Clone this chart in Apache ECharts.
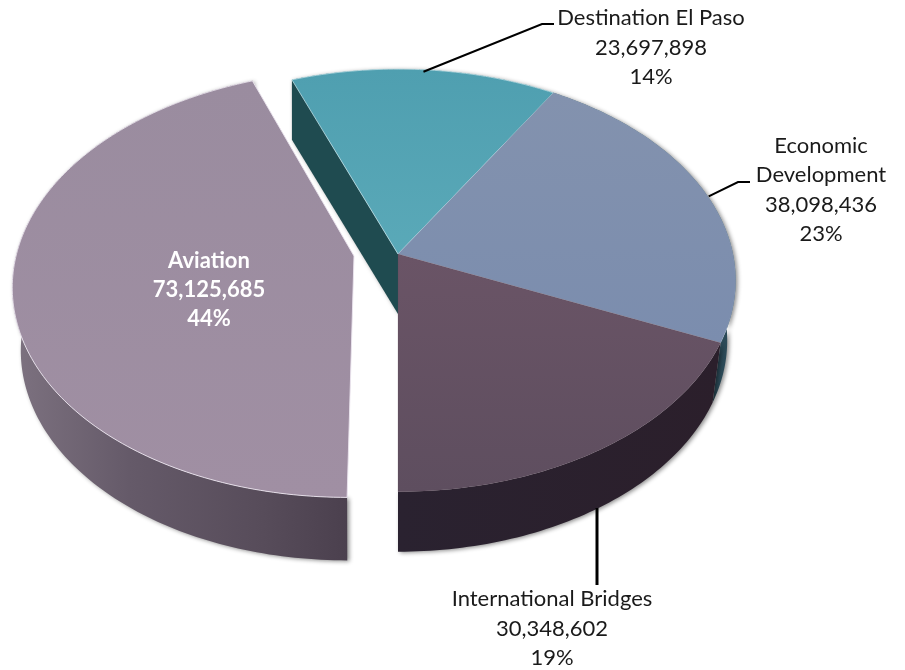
<!DOCTYPE html>
<html>
<head>
<meta charset="utf-8">
<style>html,body{margin:0;padding:0;background:#fff}#c{width:905px;height:670px}</style>
<script src="https://cdn.jsdelivr.net/npm/echarts@6/dist/echarts.min.js"></script>
</head>
<body>
<div id="c"></div>
<script>
// ---- data ----
var categories = ['Aviation', 'Destination El Paso', 'Economic Development', 'International Bridges'];
var amounts = [73125685, 23697898, 38098436, 30348602];
var percentLabels = ['44%', '14%', '23%', '19%'];
var nameLabels = ['Aviation', 'Destination El Paso', 'Economic\nDevelopment', 'International Bridges'];

// ---- look ----
var topColors = [['#9a8c9f', '#a08fa3'], ['#4f9fb0', '#5aa9b8'], ['#8392ae', '#7b8dae'], ['#6a5466', '#5e4e5f']];
var sideColors = [
  [[0, '#7d7280'], [0.35, '#655a69'], [0.75, '#574c5a'], [1, '#4b404e']],
  [[0, '#1f4d52'], [1, '#1f4d52']],
  [[0, '#234650'], [1, '#2c4a58']],
  [[0, '#2a2230'], [1, '#2b1f2b']]
];
var edgeColors = ['rgba(235,228,238,0.9)', 'rgba(190,225,232,0.8)', 'rgba(170,190,210,0.25)', 'rgba(90,70,85,0.2)'];
var wallColor = '#1f4b50';

// ---- layout ----
var startBearing = 180;                     // first slice begins at the front of the pie, running clockwise
var tilt = { rx: 335, ry: 208, p: 0.125, depth: 60, floorScale: 0.975 };
var pieces = [
  { cx: 354, cy: 256, rx: 338, ry: 210, p: 0.13, shear: -6, depth: 63 },
  { cx: 398, cy: 254 }, { cx: 398, cy: 254 }, { cx: 398, cy: 254 }
];
var labelFont = 22;
var labelSpots = [
  { x: 209, y: 290, color: '#ffffff', weight: 'bold' },
  { x: 651, y: 47.5, color: '#1a1a1a', weight: 'normal' },
  { x: 821, y: 190, color: '#1a1a1a', weight: 'normal' },
  { x: 552, y: 628.5, color: '#1a1a1a', weight: 'normal' }
];
var leaders = [
  null,
  { nudge: [-1, 2], via: [[542, 24], [554, 24]] },
  { nudge: [3, 3], via: [[738, 182], [750, 182]] },
  { nudge: [0, 0], rim: true, via: [[597, 585]], plumb: 597, from: 508 }
];

var total = amounts.reduce(function (a, b) { return a + b; }, 0);
var sweeps = [];
(function () {
  var b = startBearing;
  amounts.forEach(function (v) {
    var e = b + v / total * 360;
    sweeps.push([b, e]);
    b = e;
  });
})();

function project(i, bearing) {
  var P = pieces[i];
  var rx = P.rx || tilt.rx, ry = P.ry || tilt.ry, sh = P.shear || 0, p = P.p || tilt.p;
  var a = bearing * Math.PI / 180;
  var u = Math.sin(a), v = -Math.cos(a);
  var w = 1 - p * v;
  return [P.cx + (rx * u + sh * v) / w, P.cy + ry * v / w];
}
function arc(i) {
  var pts = [], s = sweeps[i], n = Math.ceil(s[1] - s[0]);
  for (var k = 0; k <= n; k++) pts.push(project(i, s[0] + (s[1] - s[0]) * k / n));
  return pts;
}
function depthOf(i) { return pieces[i].depth || tilt.depth; }
function grad(stops, vertical) {
  return { type: 'linear', x: 0, y: 0, x2: vertical ? 0 : 1, y2: vertical ? 1 : 0,
    colorStops: stops.map(function (s) { return { offset: s[0], color: s[1] }; }) };
}
function twoStops(c) { return [[0, c[0]], [1, c[1]]]; }
var shadow = { shadowColor: 'rgba(0,0,0,0.45)', shadowBlur: 4, shadowOffsetX: 2, shadowOffsetY: 1 };

function renderSide(params) {
  var i = params.dataIndex, top = arc(i), d = depthOf(i), cx = pieces[i].cx;
  var low = top.map(function (p) {
    return [cx + (p[0] - cx) * tilt.floorScale, p[1] + d];
  }).reverse();
  return { type: 'polygon', shape: { points: top.concat(low) },
    style: Object.assign({ fill: grad(sideColors[i], false) }, shadow) };
}
function renderWall(params) {
  var i = params.dataIndex;
  if (i !== 1) return { type: 'group', children: [] };
  var P = pieces[i], d = depthOf(i), rim = project(i, sweeps[i][0]);
  return { type: 'polygon',
    shape: { points: [rim, [P.cx, P.cy], [P.cx, P.cy + d], [rim[0], rim[1] + d]] },
    style: Object.assign({ fill: wallColor }, shadow) };
}
function renderTop(params) {
  var i = params.dataIndex, P = pieces[i];
  return { type: 'polygon', shape: { points: [[P.cx, P.cy]].concat(arc(i)) },
    style: { fill: grad(twoStops(topColors[i]), true), stroke: edgeColors[i], lineWidth: 1, lineJoin: 'round' } };
}
function renderLabel(params) {
  var i = params.dataIndex, L = labelSpots[i], kids = [];
  var label = nameLabels[i] + '\n' + amounts[i].toLocaleString('en-US') + '\n' + percentLabels[i];
  kids.push({ type: 'text', style: { text: label, x: L.x, y: L.y, align: 'center', verticalAlign: 'middle',
    fill: L.color, fontFamily: 'Lato', fontSize: labelFont,
    fontWeight: L.weight, lineHeight: 29.3 } });
  var K = leaders[i];
  if (K) {
    var m = project(i, (sweeps[i][0] + sweeps[i][1]) / 2);
    var s = K.plumb ? [K.plumb, K.from] : [m[0] + K.nudge[0], m[1] + K.nudge[1]];
    kids.push({ type: 'polyline', shape: { points: [s].concat(K.via) },
      style: { stroke: '#000', lineWidth: K.rim ? 3 : 2, fill: null } });
  }
  return { type: 'group', children: kids };
}

var rows = amounts.map(function (v, i) { return { name: categories[i], value: v }; });
var chart = echarts.init(document.getElementById('c'), null, { renderer: 'canvas' });
chart.setOption({
  animation: false,
  backgroundColor: '#ffffff',
  tooltip: { show: false },
  series: [
    { type: 'custom', coordinateSystem: 'none', silent: true, z: 1, data: rows, renderItem: renderSide },
    { type: 'custom', coordinateSystem: 'none', silent: true, z: 2, data: rows, renderItem: renderWall },
    { type: 'custom', coordinateSystem: 'none', silent: true, z: 3, data: rows, renderItem: renderTop },
    { type: 'custom', coordinateSystem: 'none', silent: true, z: 4, data: rows, renderItem: renderLabel }
  ]
});
</script>
</body>
</html>
